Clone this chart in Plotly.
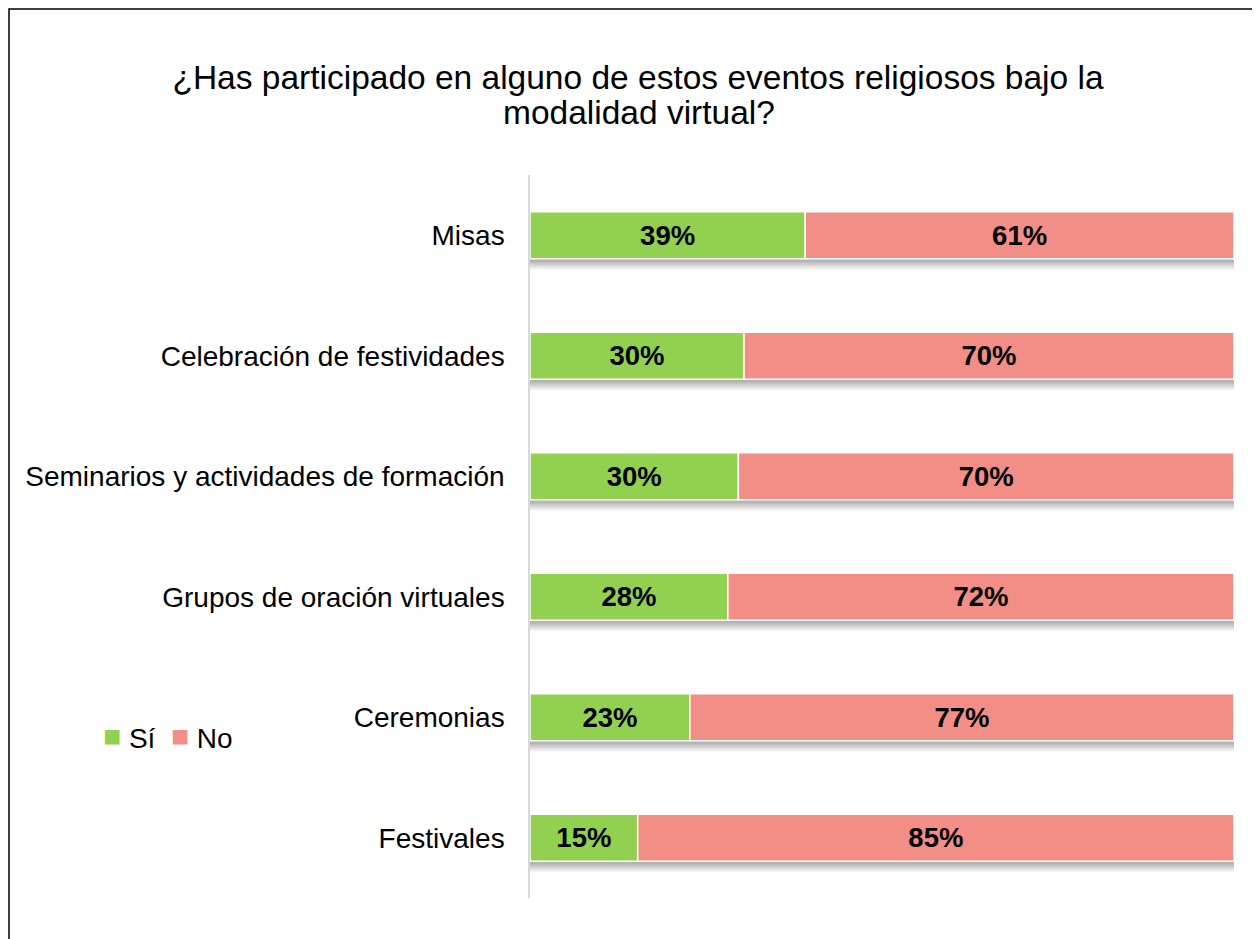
import plotly.graph_objects as go

# Survey answers, top to bottom as in the chart
categories = [
    "Misas",
    "Celebración de festividades",
    "Seminarios y actividades de formación",
    "Grupos de oración virtuales",
    "Ceremonias",
    "Festivales",
]
si_values = [39.1, 30.4, 29.6, 28.1, 22.7, 15.3]
no_values = [60.9, 69.6, 70.4, 71.9, 77.3, 84.7]
series_names = ["Sí", "No"]

GREEN = "#92D050"
PINK = "#F28E86"
FONT = "Liberation Sans, Arial, sans-serif"
BAR_W = 0.39

W, H = 1260, 939
M_L, M_R, M_T, M_B = 522, 34, 167, 49
PLOT_W = W - M_L - M_R
PLOT_H = H - M_T - M_B


def px_x(x):
    """figure pixel -> paper x"""
    return (x - M_L) / PLOT_W


def px_y(y):
    """figure pixel (from top) -> paper y"""
    return (H - M_B - y) / PLOT_H


totals = [s + n for s, n in zip(si_values, no_values)]

fig = go.Figure()

# soft drop shadow under each full bar (stacked translucent layers)
for shift in [0.09, 0.075, 0.06, 0.048, 0.036, 0.025]:
    fig.add_trace(go.Bar(
        y=categories,
        x=[t + 0.4 for t in totals],
        base=0,
        orientation="h",
        width=BAR_W,
        offset=-BAR_W / 2 + shift,
        marker=dict(color="rgba(0,0,0,0.055)", line=dict(width=0)),
        hoverinfo="skip",
        showlegend=False,
    ))

label_font = dict(family=FONT, size=27.5, color="black", weight="bold")

fig.add_trace(go.Bar(
    name=series_names[0],
    y=categories,
    x=si_values,
    base=0,
    orientation="h",
    width=BAR_W,
    offset=-BAR_W / 2,
    marker=dict(color=GREEN, line=dict(color="white", width=1.5)),
    text=[f"{v:.0f}%" for v in si_values],
    textposition="inside",
    insidetextanchor="middle",
    textangle=0,
    constraintext="none",
    textfont=label_font,
    showlegend=False,
))
fig.add_trace(go.Bar(
    name=series_names[1],
    y=categories,
    x=no_values,
    base=si_values,
    orientation="h",
    width=BAR_W,
    offset=-BAR_W / 2,
    marker=dict(color=PINK, line=dict(color="white", width=1.5)),
    text=[f"{v:.0f}%" for v in no_values],
    textposition="inside",
    insidetextanchor="middle",
    textangle=0,
    constraintext="none",
    textfont=label_font,
    showlegend=False,
))

# outer frame of the chart (runs off the right and bottom edges)
fig.add_shape(
    type="rect", xref="paper", yref="paper",
    x0=px_x(1), x1=px_x(W + 10), y0=px_y(H + 10), y1=px_y(1),
    line=dict(color="black", width=1.5), fillcolor="rgba(0,0,0,0)",
)

# second title line, tighter spacing than plotly's title <br>
fig.add_annotation(
    text="modalidad virtual?",
    xref="paper", yref="paper",
    x=px_x(W / 2 + 1), y=px_y(104),
    xanchor="center", yanchor="middle",
    showarrow=False,
    font=dict(family=FONT, size=33.5, color="black"),
)

# compact legend: squares right next to the labels
sq = "<span style='color:{};font-size:30px;baseline-shift:2px'>■</span>"
fig.add_annotation(
    text=(
        sq.format(GREEN) + " " + series_names[0] + "  "
        + sq.format(PINK) + " " + series_names[1]
    ),
    xref="paper", yref="paper",
    x=px_x(93), y=px_y(728),
    xanchor="left", yanchor="middle",
    showarrow=False,
    font=dict(family=FONT, size=28, color="black"),
)

fig.update_layout(
    width=W,
    height=H,
    barmode="overlay",
    showlegend=False,
    paper_bgcolor="white",
    plot_bgcolor="white",
    font=dict(family=FONT, color="black"),
    title=dict(
        text="¿Has participado en alguno de estos eventos religiosos bajo la",
        xref="container", x=0.5, xanchor="center",
        yref="container", y=1 - 69 / H, yanchor="middle",
        font=dict(family=FONT, size=33.5, color="black"),
    ),
    xaxis=dict(
        range=[0, 100], showticklabels=False, showgrid=False,
        zeroline=False, showline=False, fixedrange=True,
    ),
    yaxis=dict(
        autorange="reversed", showgrid=False, zeroline=False,
        showline=True, linecolor="#D9D9D9", linewidth=1.5,
        ticks="", ticklabelstandoff=18,
        tickfont=dict(family=FONT, size=28, color="black"),
    ),
    margin=dict(l=M_L, r=M_R, t=M_T, b=M_B),
)

fig.write_html("out.html")
